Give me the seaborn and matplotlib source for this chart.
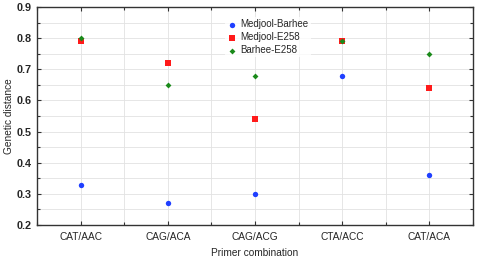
import matplotlib
matplotlib.use("Agg")
import matplotlib.pyplot as plt
import seaborn as sns
import pandas as pd
from matplotlib.ticker import MultipleLocator
from matplotlib import font_manager as fm

categories = ["CAT/AAC", "CAG/ACA", "CAG/ACG", "CTA/ACC", "CAT/ACA"]
medjool_barhee = [0.33, 0.27, 0.30, 0.68, 0.36]
medjool_e258 = [0.79, 0.72, 0.54, 0.79, 0.64]
barhee_e258 = [0.80, 0.65, 0.68, 0.79, 0.75]
series_names = ["Medjool-Barhee", "Medjool-E258", "Barhee-E258"]

sns.set_theme(style="white")

# locate regular (non-narrow) Liberation Sans
reg = None
bold = None
for f in fm.fontManager.ttflist:
    base = f.fname.split("/")[-1]
    if base == "LiberationSans-Regular.ttf":
        reg = f.fname
    if base == "LiberationSans-Bold.ttf":
        bold = f.fname
if reg:
    fam = fm.FontProperties(fname=reg).get_name()
else:
    fam = 'DejaVu Sans'
plt.rcParams['font.family'] = [fam, 'DejaVu Sans']
plt.rcParams['font.stretch'] = 'normal'

df = pd.DataFrame({
    "Primer combination": categories * 3,
    "Genetic distance": medjool_barhee + medjool_e258 + barhee_e258,
    "Series": [series_names[0]] * 5 + [series_names[1]] * 5 + [series_names[2]] * 5,
})

fig = plt.figure(figsize=(4.78, 2.58), dpi=100)
ax = fig.add_axes([37/478, 1 - 225/258, (473-37)/478, (225-7)/258])

palette = {series_names[0]: "#1f3fff", series_names[1]: "#ff1a1a", series_names[2]: "#1a8a1a"}
markers = {series_names[0]: "o", series_names[1]: "s", series_names[2]: "D"}
sizes = {series_names[0]: 15, series_names[1]: 17, series_names[2]: 9}

for name in series_names:
    sub = df[df["Series"] == name]
    sns.scatterplot(data=sub, x="Primer combination", y="Genetic distance",
                    color=palette[name], marker=markers[name], s=sizes[name],
                    linewidth=0, ax=ax, label=name, zorder=3)

ax.set_xlim(-0.5, 4.5)
ax.set_ylim(0.2, 0.9)
ax.yaxis.set_major_locator(MultipleLocator(0.1))
ax.yaxis.set_minor_locator(MultipleLocator(0.05))
ax.set_xticks(range(5))
ax.set_xticks([i + 0.5 for i in range(-1, 5)], minor=True)
ax.set_xticklabels(categories)
ax.tick_params(axis='x', labelsize=7.3)
for lab in ax.get_yticklabels():
    if bold:
        lab.set_fontproperties(fm.FontProperties(fname=bold, size=7.8))
    else:
        lab.set_fontweight('bold')
        lab.set_fontsize(7.8)
ax.tick_params(which='both', direction='in', top=True, right=True, bottom=True, left=True,
               length=3, width=0.8, color='#333333')
ax.tick_params(which='minor', length=2)
ax.tick_params(axis='x', which='major', pad=5)
ax.tick_params(axis='y', which='major', pad=4)
ax.grid(True, which='both', color='#e2e2e2', linewidth=0.6)
ax.set_axisbelow(True)
for sp in ax.spines.values():
    sp.set_color('#333333')
    sp.set_linewidth(1.0)

ax.set_xlabel("Primer combination", fontsize=7.3, labelpad=4)
ax.set_ylabel("Genetic distance", fontsize=7.3)
ax.yaxis.set_label_coords(-0.053, 0.5)

leg = ax.legend(loc='upper left', bbox_to_anchor=(0.42, 0.975), frameon=True,
                fontsize=7, handletextpad=0.4, labelspacing=0.3, borderpad=0.2,
                handlelength=1.0, fancybox=False)
leg.get_frame().set_facecolor('white')
leg.get_frame().set_edgecolor('none')

fig.savefig("out.png", dpi=100)
